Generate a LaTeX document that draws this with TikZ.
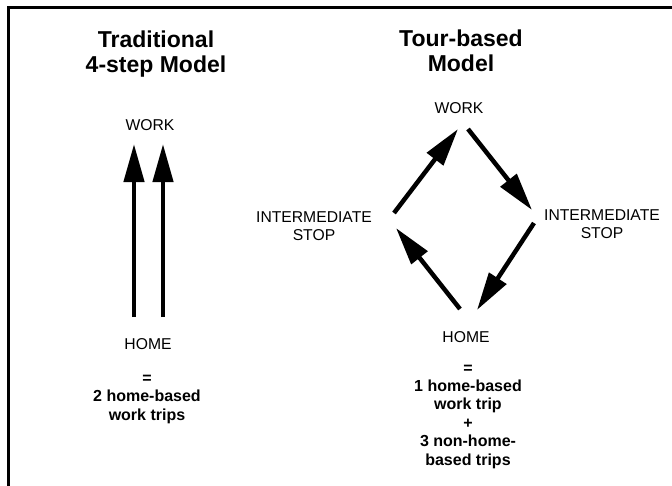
\documentclass[tikz,border=0pt]{standalone}
\usepackage{fontspec}
\setmainfont{Liberation Sans}
\usetikzlibrary{arrows.meta}
\tikzset{
  lbl/.style={inner sep=0pt, anchor=base, font=\fontsize{15.7}{17.5}\selectfont, align=center},
  ttl/.style={inner sep=0pt, anchor=base, font=\bfseries\fontsize{23}{25}\selectfont, align=center},
  res/.style={inner sep=0pt, anchor=base, font=\bfseries\fontsize{16}{18.4}\selectfont, align=center},
  trip/.style={line width=4.5pt, -{Triangle[length=38pt,width=20pt]}},
}
\begin{document}
\begin{tikzpicture}[x=1pt,y=-1pt]
\useasboundingbox (0,0) rectangle (672,485);
\draw[line width=3pt] (8.5,495) -- (8.5,7.5) -- (680,7.5);
% titles (base = baseline of last line)
\node[ttl] (t1) at (156,72) {Traditional\\4-step Model};
\node[ttl] (t2) at (461,71) {Tour-based\\Model};
% left model
\node[lbl] (lw) at (150,130) {WORK};
\node[lbl] (lh) at (148,349) {HOME};
\node[res] (lr) at (147,420) {=\\2 home-based\\work trips};
\coordinate (la1) at (134,317);
\coordinate (la2) at (163,317);
\coordinate (lt1) at (134,144);
\coordinate (lt2) at (163,144);
\draw[trip] (la1) -- (lt1);
\draw[trip] (la2) -- (lt2);
% right model
\node[lbl] (rw) at (459,113) {WORK};
\node[lbl] (ri1) at (314,240) {INTERMEDIATE\\STOP};
\node[lbl] (ri2) at (602,238) {INTERMEDIATE\\STOP};
\node[lbl] (rh) at (466,342) {HOME};
\node[res] (rr) at (468,465) {=\\1 home-based\\work trip\\+\\3 non-home-\\based trips};
\coordinate (a1s) at (394,213);
\coordinate (a1e) at (458,129);
\coordinate (a2s) at (468,129);
\coordinate (a2e) at (532,210);
\coordinate (a3s) at (534,223);
\coordinate (a3e) at (477,310);
\coordinate (a4s) at (460,309);
\coordinate (a4e) at (396,228);
\draw[trip] (a1s) -- (a1e);
\draw[trip] (a2s) -- (a2e);
\draw[trip] (a3s) -- (a3e);
\draw[trip] (a4s) -- (a4e);
\end{tikzpicture}
\end{document}
